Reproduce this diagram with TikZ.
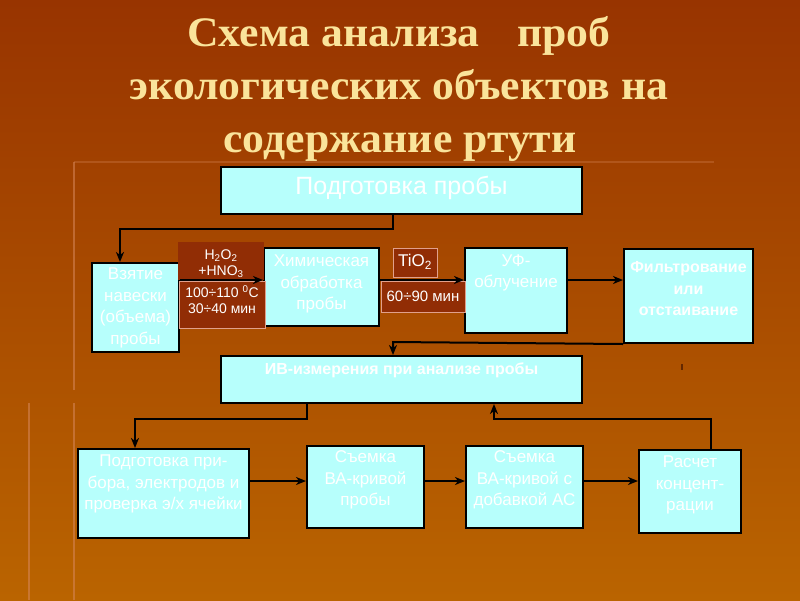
\documentclass[tikz,border=0pt]{standalone}
\usepackage{fontspec}
\setmainfont{Liberation Sans}
\newfontfamily\titlefont{Liberation Serif}[FakeStretch=1.04]
\usetikzlibrary{arrows.meta}
\definecolor{bgtop}{RGB}{152,52,0}
\definecolor{bgbot}{RGB}{186,100,0}
\definecolor{boxfill}{RGB}{183,255,252}
\definecolor{titlecol}{RGB}{250,228,155}
\definecolor{labfill}{RGB}{145,45,5}
\definecolor{labedge}{RGB}{225,160,140}
\definecolor{stripecol}{RGB}{215,135,90}
\definecolor{tickcol}{RGB}{100,40,0}
\tikzset{
  box/.style={draw=black, line width=2pt, fill=boxfill, inner sep=0pt},
  btext/.style={text=white, font=\fontsize{17}{21.5}\selectfont, align=center, inner sep=0pt},
  lab/.style={fill=labfill, inner sep=0pt},
  labb/.style={fill=labfill, draw=labedge, line width=1pt, inner sep=0pt},
  ltext/.style={text=white, font=\fontsize{14}{16}\selectfont, align=center, inner sep=0pt},
  titletext/.style={text=titlecol, font=\titlefont\bfseries\fontsize{42}{42}\selectfont, inner sep=0pt, anchor=base},
  conn/.style={draw=black, line width=2pt},
  arr/.style={conn, -{Stealth[length=10pt,width=8pt,inset=3pt]}},
  stripe/.style={draw=stripecol, line width=2.5pt, opacity=0.55}
}
\begin{document}
\begin{tikzpicture}[x=1pt,y=-1pt]
\useasboundingbox (0,0) rectangle (800,600);
\shade[top color=bgtop, bottom color=bgbot] (0,0) rectangle (800,600);
% decorative stripes
\draw[stripe] (74,162) -- (74,390);
\draw[stripe] (74,403) -- (74,600);
\draw[stripe] (29,403) -- (29,600);
\draw[stripe, opacity=0.3] (74,162) -- (714,162);
% title
\node[titletext] (t1) at (399,46) {Схема анализа\hspace{0.9em}проб};
\node[titletext] (t2) at (399,99) {экологических объектов на};
\node[titletext] (t3) at (400,152) {содержание ртути};
% boxes
\node[box, minimum width=361pt, minimum height=47pt] (pp) at (401.5,190.5) {};
\node[box, minimum width=87pt, minimum height=89pt] (vz) at (135.5,307.5) {};
\node[box, minimum width=115pt, minimum height=78pt] (hx) at (321.5,287) {};
\node[box, minimum width=102pt, minimum height=85pt] (uf) at (516,290.5) {};
\node[box, minimum width=129pt, minimum height=94pt] (fl) at (688.5,296) {};
\node[box, minimum width=361pt, minimum height=47pt] (iv) at (401.5,379.5) {};
\node[box, minimum width=171pt, minimum height=89pt] (pb) at (163.5,493.5) {};
\node[box, minimum width=117pt, minimum height=82pt] (s1) at (365.5,487) {};
\node[box, minimum width=117pt, minimum height=82pt] (s2) at (524.5,487) {};
\node[box, minimum width=102pt, minimum height=83pt] (rc) at (690,491.5) {};
% box texts
\node[btext, font=\fontsize{25}{28}\selectfont] (ppt) at (401.5,188) {Подготовка пробы};
\node[btext] (vzt) at (135.5,308) {Взятие\\навески\\(объема)\\пробы};
\node[btext] (hxt) at (321.5,284) {Химическая\\обработка\\пробы};
\node[btext] (uft) at (516,273) {УФ-\\облучение};
\node[btext, font=\bfseries\fontsize{16}{21.5}\selectfont] (flt) at (688.5,289) {Фильтрование\\или\\отстаивание};
\node[btext, font=\bfseries\fontsize{16}{21.5}\selectfont] (ivt) at (401.5,370) {ИВ-измерения при анализе пробы};
\node[btext] (pbt) at (163.5,484) {Подготовка при-\\бора, электродов и\\проверка э/х ячейки};
\node[btext] (s1t) at (365.5,480) {Съемка\\ВА-кривой\\пробы};
\node[btext] (s2t) at (524.5,480) {Съемка\\ВА-кривой с\\добавкой АС};
\node[btext] (rct) at (690,485) {Расчет\\концент-\\рации};
% condition labels
\node[lab, minimum width=86pt, minimum height=38pt] (l1) at (221,261) {};
\node[labb, minimum width=86pt, minimum height=47pt] (l2) at (222,304.5) {};
\node[labb, minimum width=44pt, minimum height=29pt] (l3) at (415,262.5) {};
\node[labb, minimum width=84pt, minimum height=31pt] (l4) at (423,296.5) {};
\node[ltext] (l1t) at (221,264) {H\textsubscript{2}O\textsubscript{2}\\+HNO\textsubscript{3}};
\node[ltext] (l2t) at (222,300) {100÷110 \textsuperscript{0}C\\30÷40 мин};
\node[ltext, font=\fontsize{17}{20}\selectfont] (l3t) at (415,262) {TiO\textsubscript{2}};
\node[ltext, font=\fontsize{15}{18}\selectfont] (l4t) at (423,296) {60÷90 мин};
% helper coordinates
\coordinate (k1) at (393,229);
\coordinate (k2) at (120,229);
\coordinate (k3) at (393,342);
\coordinate (k4) at (307,419);
\coordinate (k5) at (135,419);
\coordinate (k6) at (711,419);
\coordinate (k7) at (494,419);
\coordinate (hy) at (0,280);
\coordinate (by) at (0,481);
% connectors
\draw[arr] (pp.south -| k1) -- (k1) -- (k2) -- (vz.north -| k2);
\draw[arr] (vz.east |- hy) -- (hx.west |- hy);
\draw[arr] (hx.east |- hy) -- (uf.west |- hy);
\draw[arr] (uf.east |- hy) -- (fl.west |- hy);
\draw[arr] (fl.south west) -- (k3) -- (iv.north -| k3);
\draw[arr] (iv.south -| k4) -- (k4) -- (k5) -- (pb.north -| k5);
\draw[arr] (rc.north -| k6) -- (k6) -- (k7) -- (iv.south -| k7);
\draw[arr] (pb.east |- by) -- (s1.west |- by);
\draw[arr] (s1.east |- by) -- (s2.west |- by);
\draw[arr] (s2.east |- by) -- (rc.west |- by);
% small mark
\coordinate (m1) at (682,364);
\coordinate (m2) at (682,370);
\draw[draw=tickcol, line width=1.5pt] (m1) -- (m2);
\end{tikzpicture}
\end{document}
